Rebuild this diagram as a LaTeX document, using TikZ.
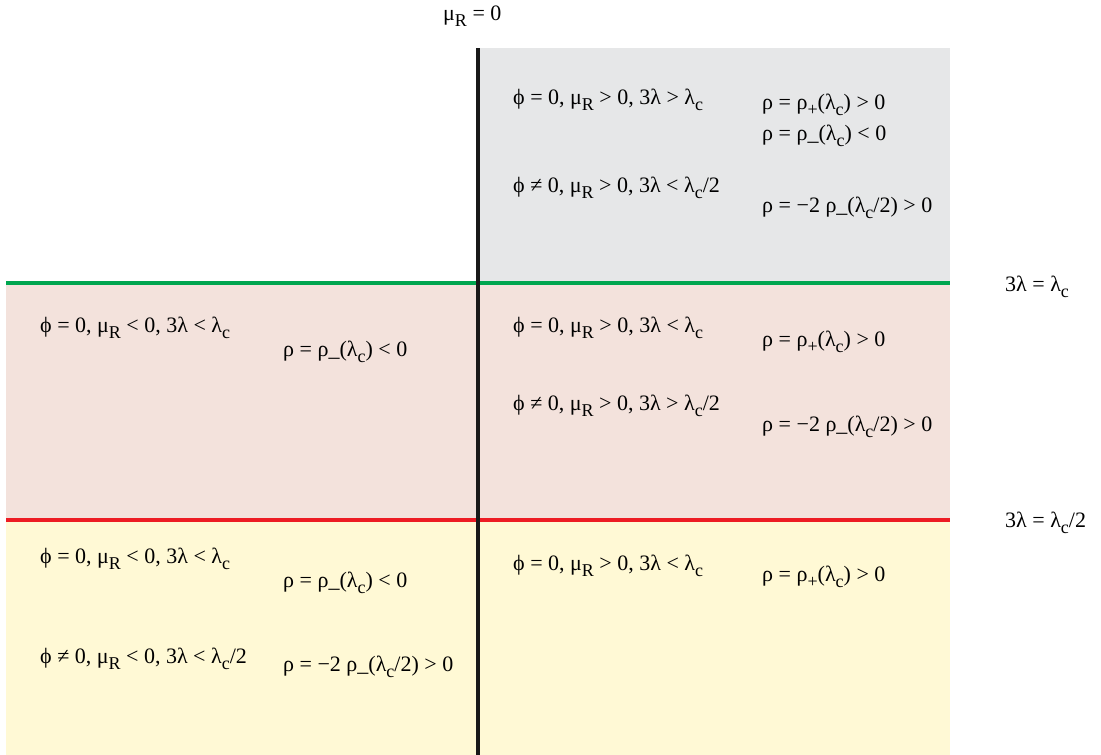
\documentclass[tikz,border=0pt]{standalone}
\usepackage{fontspec}
\setmainfont{Liberation Serif}
\usepackage{graphicx}
\definecolor{grayfill}{HTML}{E6E7E8}
\definecolor{pinkfill}{HTML}{F3E2DC}
\definecolor{yellowfill}{HTML}{FFF9D5}
\definecolor{greenline}{HTML}{00A650}
\definecolor{redline}{HTML}{ED1C24}
\newcommand{\lsub}[1]{\raisebox{-0.3em}{\fontsize{18}{18}\selectfont #1}}
\newcommand{\phz}{ϕ = 0, μ\lsub{R}}
\newcommand{\phn}{ϕ ≠ 0, μ\lsub{R}}
\begin{document}
\begin{tikzpicture}[x=1pt,y=-1pt,
  lbl/.style={anchor=base west, inner sep=0pt, font=\fontsize{22}{26}\selectfont}]
\useasboundingbox (0,0) rectangle (1101,755);
% regions
\fill[grayfill] (478,48) rectangle (950,283);
\fill[pinkfill] (6,283) rectangle (950,520);
\fill[yellowfill] (6,520) rectangle (950,755);
% boundaries
\draw[greenline, line width=4pt] (6,283) -- (950,283);
\draw[redline, line width=4pt] (6,520) -- (950,520);
\draw[black!90, line width=4pt] (478,48) -- (478,755);
% labels
\node[lbl] (muR) at (443,20) {μ\lsub{R} = 0};
\node[lbl] (lc) at (1005,291) {3λ = λ\lsub{c}};
\node[lbl] (lc2) at (1005,527) {3λ = λ\lsub{c}/2};
% gray region
\node[lbl] (g1) at (513,104) {\phz{} > 0, 3λ > λ\lsub{c}};
\node[lbl] (g2) at (762,109) {ρ = ρ\lsub{+}(λ\lsub{c}) > 0};
\node[lbl] (g3) at (762,140) {ρ = ρ\_(λ\lsub{c}) < 0};
\node[lbl] (g4) at (513,192) {\phn{} > 0, 3λ < λ\lsub{c}/2};
\node[lbl] (g5) at (762,212) {ρ = −2 ρ\_(λ\lsub{c}/2) > 0};
% pink left
\node[lbl] (p1) at (40,332) {\phz{} < 0, 3λ < λ\lsub{c}};
\node[lbl] (p2) at (283,356) {ρ = ρ\_(λ\lsub{c}) < 0};
% pink right
\node[lbl] (p3) at (513,332) {\phz{} > 0, 3λ < λ\lsub{c}};
\node[lbl] (p4) at (762,346) {ρ = ρ\lsub{+}(λ\lsub{c}) > 0};
\node[lbl] (p5) at (513,410) {\phn{} > 0, 3λ > λ\lsub{c}/2};
\node[lbl] (p6) at (762,431) {ρ = −2 ρ\_(λ\lsub{c}/2) > 0};
% yellow left
\node[lbl] (y1) at (40,563) {\phz{} < 0, 3λ < λ\lsub{c}};
\node[lbl] (y2) at (283,587) {ρ = ρ\_(λ\lsub{c}) < 0};
\node[lbl] (y3) at (40,663) {\phn{} < 0, 3λ < λ\lsub{c}/2};
\node[lbl] (y4) at (283,671) {ρ = −2 ρ\_(λ\lsub{c}/2) > 0};
% yellow right
\node[lbl] (y5) at (513,570) {\phz{} > 0, 3λ < λ\lsub{c}};
\node[lbl] (y6) at (762,581) {ρ = ρ\lsub{+}(λ\lsub{c}) > 0};
\end{tikzpicture}
\end{document}
